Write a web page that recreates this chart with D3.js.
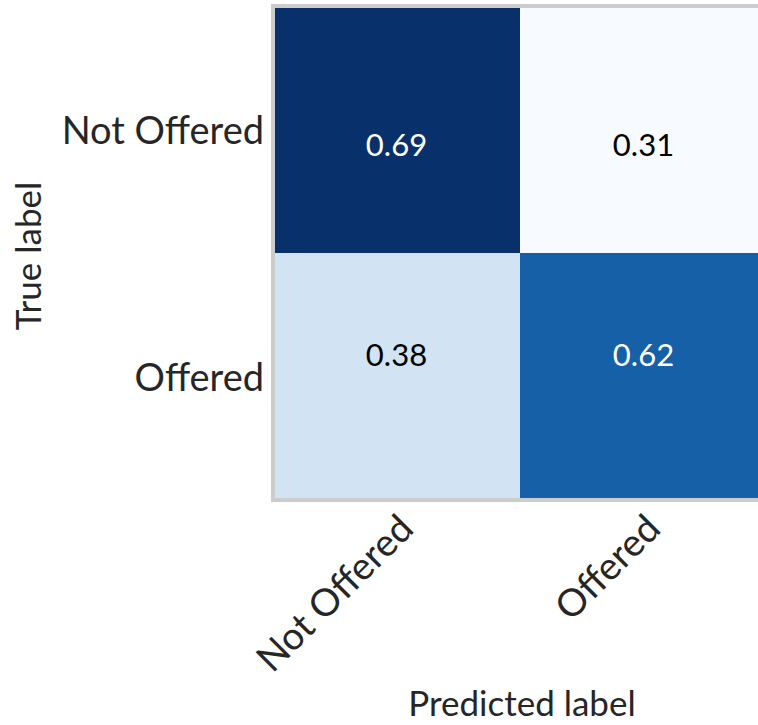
<!DOCTYPE html>
<html>
<head>
<meta charset="utf-8">
<script src="https://cdn.jsdelivr.net/npm/d3@7"></script>
<style>
  html, body { margin: 0; padding: 0; background: #ffffff; overflow: hidden; }
  svg { display: block; }
  text { font-family: Lato, "Open Sans", sans-serif; }
</style>
</head>
<body>
<svg id="chart" width="758" height="725"></svg>
<script>
// ---- data ----
const trueLabels = ["Not Offered", "Offered"];
const predLabels = ["Not Offered", "Offered"];
const rowNotOffered = [0.69, 0.31];
const rowOffered = [0.38, 0.62];
const matrix = [rowNotOffered, rowOffered];
const xTitle = "Predicted label";
const yTitle = "True label";

// ---- layout ----
const W = 758, H = 725;
const plot = { left: 273, top: 6, size: 494 };

const svg = d3.select("#chart");

const x = d3.scaleBand().domain(predLabels).range([plot.left, plot.left + plot.size]);
const y = d3.scaleBand().domain(trueLabels).range([plot.top, plot.top + plot.size]);
// annotation rows sit slightly off the cell centres, as in the reference
const yText = d3.scalePoint().domain(trueLabels).range([144, 354]);

const flat = [];
matrix.forEach((row, i) => row.forEach((v, j) => flat.push({ t: trueLabels[i], p: predLabels[j], v })));
const vals = flat.map(d => d.v);
const color = d3.scaleSequential(d3.interpolateBlues).domain([d3.min(vals), d3.max(vals)]);
const thresh = (d3.min(vals) + d3.max(vals)) / 2;

// cells
svg.append("g").selectAll("rect").data(flat).join("rect")
  .attr("x", d => x(d.p))
  .attr("y", d => y(d.t))
  .attr("width", x.bandwidth())
  .attr("height", y.bandwidth())
  .attr("fill", d => color(d.v));

// cell text
svg.append("g").selectAll("text").data(flat).join("text")
  .attr("x", d => x(d.p) + x.bandwidth() / 2)
  .attr("y", d => yText(d.t))
  .attr("text-anchor", "middle")
  .attr("dominant-baseline", "central")
  .attr("font-size", 31)
  .attr("fill", d => d.v > thresh ? "#ffffff" : "#000000")
  .text(d => d.v.toFixed(2));

// frame (spines)
svg.append("rect")
  .attr("x", plot.left).attr("y", plot.top)
  .attr("width", plot.size).attr("height", plot.size)
  .attr("fill", "none").attr("stroke", "#cccccc").attr("stroke-width", 4);

// y axis labels
const yAxis = d3.axisLeft(y).tickSize(0).tickPadding(9);
const gy = svg.append("g").attr("transform", `translate(${plot.left},2)`).call(yAxis);
gy.select(".domain").remove();
gy.selectAll("text").attr("font-size", 38).attr("fill", "#262626")
  .attr("font-family", "Lato, 'Open Sans', sans-serif");

// x axis labels (rotated)
const xAxis = d3.axisBottom(x).tickSize(0).tickPadding(0);
const gx = svg.append("g").attr("transform", `translate(0,${plot.top + plot.size})`).call(xAxis);
gx.select(".domain").remove();
gx.selectAll("text")
  .attr("font-size", 38).attr("fill", "#262626")
  .attr("font-family", "Lato, 'Open Sans', sans-serif")
  .attr("text-anchor", "end")
  .attr("dy", null)
  .attr("y", null)
  .attr("transform", "translate(19,31) rotate(-45)");

// axis titles
svg.append("text")
  .attr("x", plot.left + plot.size / 2 + 2)
  .attr("y", 716)
  .attr("text-anchor", "middle")
  .attr("font-size", 35)
  .attr("fill", "#262626")
  .text(xTitle);

svg.append("text")
  .attr("transform", `translate(41,${plot.top + plot.size / 2 + 3}) rotate(-90)`)
  .attr("text-anchor", "middle")
  .attr("font-size", 35)
  .attr("fill", "#262626")
  .text(yTitle);
</script>
</body>
</html>
